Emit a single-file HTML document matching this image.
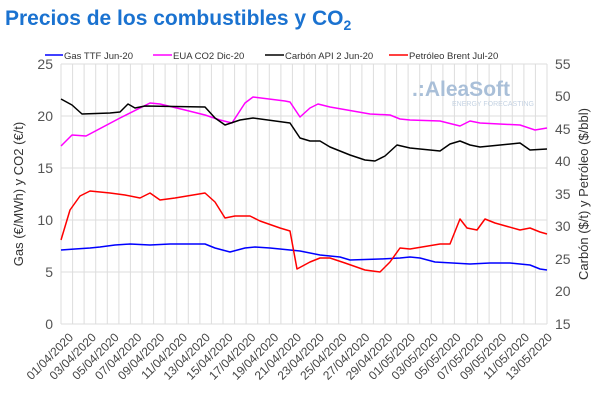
<!DOCTYPE html>
<html><head><meta charset="utf-8"><style>
body{margin:0;background:#fff;width:600px;height:414px;overflow:hidden;font-family:"Liberation Sans",sans-serif}
</style></head><body>
<svg width="600" height="414" xmlns="http://www.w3.org/2000/svg" font-family="Liberation Sans, sans-serif">
<text x="5" y="25" font-size="21" font-weight="bold" fill="#1a72d0">Precios de los combustibles y CO<tspan font-size="14" dy="5">2</tspan></text>
<g stroke="#ddd" stroke-width="1">
<line x1="61" y1="64" x2="547" y2="64"/><line x1="61" y1="116" x2="547" y2="116"/><line x1="61" y1="168" x2="547" y2="168"/><line x1="61" y1="220" x2="547" y2="220"/><line x1="61" y1="272" x2="547" y2="272"/><line x1="61" y1="324" x2="547" y2="324"/>
</g>
<path stroke="#ddd" stroke-width="1" fill="none" d="M61 64V324M72.6 64V324M84.1 64V324M95.7 64V324M107.3 64V324M118.9 64V324M130.4 64V324M142 64V324M153.6 64V324M165.1 64V324M176.7 64V324M188.3 64V324M199.9 64V324M211.4 64V324M223 64V324M234.6 64V324M246.1 64V324M257.7 64V324M269.3 64V324M280.9 64V324M292.4 64V324M304 64V324M315.6 64V324M327.1 64V324M338.7 64V324M350.3 64V324M361.9 64V324M373.4 64V324M385 64V324M396.6 64V324M408.1 64V324M419.7 64V324M431.3 64V324M442.9 64V324M454.4 64V324M466 64V324M477.6 64V324M489.1 64V324M500.7 64V324M512.3 64V324M523.9 64V324M535.4 64V324M547 64V324"/>
<text x="412" y="96" font-size="21" font-weight="bold" fill="#a9bfd8">.:AleaSoft</text>
<text x="452" y="106" font-size="7" fill="#c5d3e3">ENERGY FORECASTING</text>
<g fill="#333">
<line x1="45" y1="55" x2="63" y2="55" stroke="#00f" stroke-width="1.5"/><text x="64" y="59" font-size="9.5">Gas TTF Jun-20</text>
<line x1="153" y1="55" x2="172" y2="55" stroke="#f0f" stroke-width="1.5"/><text x="173" y="59" font-size="9.5">EUA CO2 Dic-20</text>
<line x1="265" y1="55" x2="284" y2="55" stroke="#000" stroke-width="1.5"/><text x="285" y="59" font-size="9.5">Carbón API 2 Jun-20</text>
<line x1="389" y1="55" x2="408" y2="55" stroke="#f00" stroke-width="1.5"/><text x="409" y="59" font-size="9.5">Petróleo Brent Jul-20</text>
</g>
<g font-size="14" fill="#555" text-anchor="end">
<text x="53" y="69">25</text><text x="53" y="121">20</text><text x="53" y="173">15</text><text x="53" y="225">10</text><text x="53" y="277">5</text><text x="53" y="329">0</text>
</g>
<g font-size="14" fill="#555">
<text x="555" y="69">55</text><text x="555" y="101">50</text><text x="555" y="134">45</text><text x="555" y="166">40</text><text x="555" y="199">35</text><text x="555" y="231">30</text><text x="555" y="264">25</text><text x="555" y="296">20</text><text x="555" y="329">15</text>
</g>
<text transform="translate(23,194) rotate(-90)" font-size="13" fill="#333" text-anchor="middle">Gas (€/MWh) y CO2 (€/t)</text>
<text transform="translate(588,194) rotate(-90)" font-size="13" fill="#333" text-anchor="middle">Carbón ($/t) y Petróleo ($/bbl)</text>
<g font-size="12" fill="#444" text-anchor="end">
<text transform="translate(74,338) rotate(-45)">01/04/2020</text>
<text transform="translate(96.8,338) rotate(-45)">03/04/2020</text>
<text transform="translate(119.6,338) rotate(-45)">05/04/2020</text>
<text transform="translate(142.4,338) rotate(-45)">07/04/2020</text>
<text transform="translate(165.2,338) rotate(-45)">09/04/2020</text>
<text transform="translate(188,338) rotate(-45)">11/04/2020</text>
<text transform="translate(210.8,338) rotate(-45)">13/04/2020</text>
<text transform="translate(233.6,338) rotate(-45)">15/04/2020</text>
<text transform="translate(256.4,338) rotate(-45)">17/04/2020</text>
<text transform="translate(279.2,338) rotate(-45)">19/04/2020</text>
<text transform="translate(302,338) rotate(-45)">21/04/2020</text>
<text transform="translate(324.8,338) rotate(-45)">23/04/2020</text>
<text transform="translate(347.6,338) rotate(-45)">25/04/2020</text>
<text transform="translate(370.4,338) rotate(-45)">27/04/2020</text>
<text transform="translate(393.2,338) rotate(-45)">29/04/2020</text>
<text transform="translate(416,338) rotate(-45)">01/05/2020</text>
<text transform="translate(438.8,338) rotate(-45)">03/05/2020</text>
<text transform="translate(461.6,338) rotate(-45)">05/05/2020</text>
<text transform="translate(484.4,338) rotate(-45)">07/05/2020</text>
<text transform="translate(507.2,338) rotate(-45)">09/05/2020</text>
<text transform="translate(530,338) rotate(-45)">11/05/2020</text>
<text transform="translate(552.8,338) rotate(-45)">13/05/2020</text>
</g>
<g fill="none" stroke-width="1.5" stroke-linejoin="round">
<polyline stroke="#00f" points="61,250 75,249 90,248 100,247 115,245 130,244 150,245 170,244 205,244 215,248 230,252 245,248 255,247 270,248 300,251 320,255 340,257 350,260 380,259 400,258 410,257 420,258 435,262 470,264 490,263 510,263 530,265 540,269 547,270"/>
<polyline stroke="#f0f" points="61,146 72,135 86,136 120,118 150,103 160,104 185,110 205,115 220,120 232,123 245,103 253,97 285,101 290,102 300,117 310,108 318,104 330,107 370,114 390,115 400,119 410,120 440,121 460,126 470,121 480,123 520,125 535,130 547,128"/>
<polyline stroke="#000" points="61,99 72,105 82,114 110,113 120,112 128,104 135,108 145,106 205,107 215,118 225,125 240,120 253,118 290,123 300,138 310,141 320,141 330,147 350,155 365,160 375,161 385,156 397,145 410,148 440,151 450,144 460,141 470,145 480,147 520,143 530,150 547,149"/>
<polyline stroke="#f00" points="61,240 70,210 80,196 90,191 100,192 110,193 125,195 140,198 150,193 160,200 175,198 205,193 215,202 225,218 235,216 250,216 260,221 280,228 290,231 297,269 310,262 320,258 330,258 345,263 365,270 380,272 390,262 400,248 410,249 440,244 450,244 460,219 467,228 477,230 485,219 495,223 520,230 530,228 540,232 547,234"/>
</g>
</svg>
</body></html>
